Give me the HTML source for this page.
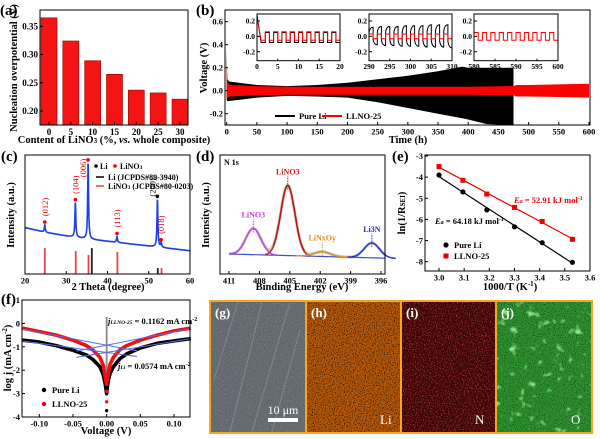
<!DOCTYPE html>
<html><head><meta charset="utf-8">
<style>
html,body{margin:0;padding:0;background:#fff;width:600px;height:439px;overflow:hidden}
svg{display:block;font-family:"Liberation Serif",serif;font-weight:bold}
</style></head>
<body>
<svg id="fig" width="600" height="439" viewBox="0 0 600 439">
<defs>
<filter id="speckDark" x="0" y="0" width="100%" height="100%"><feTurbulence type="fractalNoise" baseFrequency="0.9" numOctaves="2" seed="4"/><feColorMatrix type="matrix" values="0 0 0 0 0  0 0 0 0 0  0 0 0 0 0  0 0 0 -3 1.55"/></filter>
<filter id="speckRed" x="0" y="0" width="100%" height="100%"><feTurbulence type="fractalNoise" baseFrequency="0.85" numOctaves="2" seed="9"/><feColorMatrix type="matrix" values="0 0 0 0 0.85  0 0 0 0 0.1  0 0 0 0 0.1  0 0 0 -3 1.5"/></filter>
<filter id="blobGreen" x="0" y="0" width="100%" height="100%"><feTurbulence type="fractalNoise" baseFrequency="0.11" numOctaves="2" seed="2"/><feColorMatrix type="matrix" values="0 0 0 0 0.4  0 0 0 0 1  0 0 0 0 0.4  0 0 0 5 -3.1"/></filter>
<filter id="grain" x="0" y="0" width="100%" height="100%"><feTurbulence type="fractalNoise" baseFrequency="0.7" numOctaves="2" seed="5"/><feColorMatrix type="matrix" values="0 0 0 0 1  0 0 0 0 1  0 0 0 0 1  0 0 0 -2 1.1"/></filter>
</defs>

<!-- panel labels -->
<text x="0" y="15" font-size="15">(a)</text>
<text x="196" y="15" font-size="15">(b)</text>
<text x="1" y="161" font-size="15">(c)</text>
<text x="196" y="161" font-size="15">(d)</text>
<text x="392" y="161" font-size="15">(e)</text>
<text x="1" y="304" font-size="15">(f)</text>

<!-- axis titles -->
<text transform="translate(17,68) rotate(-90)" text-anchor="middle" font-size="10.5">Nucleation overpotential (V)</text>
<text x="114" y="143" text-anchor="middle" font-size="10.5">Content of LiNO<tspan font-size="7">3</tspan> (%, <tspan font-style="italic">vs.</tspan> whole composite)</text>
<text transform="translate(207,68) rotate(-90)" text-anchor="middle" font-size="10.5">Voltage (V)</text>
<text x="408" y="143" text-anchor="middle" font-size="10.5">Time (h)</text>
<text transform="translate(14,215) rotate(-90)" text-anchor="middle" font-size="10.5">Intensity (a.u.)</text>
<text x="108" y="290" text-anchor="middle" font-size="10.5">2 Theta (degree)</text>
<text transform="translate(209,215) rotate(-90)" text-anchor="middle" font-size="10.5">Intensity (a.u.)</text>
<text x="302" y="290" text-anchor="middle" font-size="10.5">Binding Energy (eV)</text>
<text transform="translate(405,213) rotate(-90)" text-anchor="middle" font-size="10.5">ln(1/R<tspan font-size="7">SEI</tspan>)</text>
<text x="510" y="290" text-anchor="middle" font-size="10.5">1000/T (K<tspan font-size="7" dy="-4">-1</tspan><tspan dy="4">)</tspan></text>
<text transform="translate(11,358) rotate(-90)" text-anchor="middle" font-size="10.5">log j (mA cm<tspan font-size="7" dy="-4">-2</tspan><tspan dy="4">)</tspan></text>
<text x="106" y="434" text-anchor="middle" font-size="10.5">Voltage (V)</text>

<!-- legends and annotations -->
<g font-size="8.5">
<line x1="275" y1="116" x2="295" y2="116" stroke="#000" stroke-width="2"/>
<text x="299" y="119">Pure Li</text>
<line x1="322" y1="116" x2="342" y2="116" stroke="#f00" stroke-width="2"/>
<text x="346" y="119">LLNO-25</text>
</g>
<g font-size="8">
<circle cx="96" cy="166" r="1.8" fill="#000"/><text x="100" y="169">Li</text>
<circle cx="115" cy="166" r="1.8" fill="#e00"/><text x="120" y="169">LiNO<tspan font-size="5.5">3</tspan></text>
<line x1="96" y1="177" x2="104" y2="177" stroke="#000" stroke-width="1.5"/><text x="108" y="180">Li (JCPDS#89-3940)</text>
<line x1="96" y1="186" x2="104" y2="186" stroke="#e44" stroke-width="1.5"/><text x="108" y="189">LiNO<tspan font-size="5.5">3</tspan> (JCPDS#80-0203)</text>
</g>
<text x="224" y="165" font-size="8">N 1s</text>
<g font-size="8.5">
<circle cx="446" cy="245" r="2.6" fill="#000"/><text x="454" y="248">Pure Li</text>
<rect x="443.5" y="253.5" width="5" height="5" fill="#e00"/><text x="454" y="259">LLNO-25</text>
</g>
<text x="514" y="203" font-size="8.5" fill="#e00"><tspan font-style="italic">E<tspan font-size="6">a</tspan></tspan> = 52.91 kJ mol<tspan font-size="6" dy="-3">-1</tspan></text>
<text x="435" y="224" font-size="8.5" fill="#000"><tspan font-style="italic">E<tspan font-size="6">a</tspan></tspan> = 64.18 kJ mol<tspan font-size="6" dy="-3">-1</tspan></text>
<text x="108" y="324" font-size="8.5"><tspan font-style="italic">j<tspan font-size="5.5">LLNO-25</tspan></tspan> = 0.1162 mA cm<tspan font-size="6" dy="-3">-2</tspan></text>
<text x="118" y="369" font-size="8.5"><tspan font-style="italic">j<tspan font-size="5.5">Li</tspan></tspan> = 0.0574 mA cm<tspan font-size="6" dy="-3">-2</tspan></text>
<g font-size="8.5">
<circle cx="44" cy="390" r="2.2" fill="#000"/><text x="52" y="393">Pure Li</text>
<circle cx="44" cy="404" r="2.2" fill="#e00"/><text x="52" y="407">LLNO-25</text>
</g>

<!-- image panels -->
<g>
<rect x="209" y="300" width="384" height="134" fill="#f5a623"/>
<g>
<rect x="211" y="302" width="94" height="130" fill="#666c70"/>
<rect x="211" y="302" width="94" height="130" filter="url(#grain)" opacity="0.15"/>
<rect x="211" y="302" width="94" height="130" filter="url(#speckDark)" opacity="0.2"/>
<path d="M230 432 L262 302 M252 432 L290 302 M214 380 L238 302 M272 432 L300 330" stroke="#9aa0a8" stroke-width="1" opacity="0.5"/>
<text x="215" y="317" font-size="13" fill="#fff">(g)</text>
<text x="283" y="414" font-size="12" fill="#fff" text-anchor="middle" font-weight="normal">10 μm</text>
<rect x="268" y="418" width="30" height="4" fill="#fff"/>
</g>
<g>
<rect x="307" y="302" width="93" height="130" fill="#b85a0c"/>
<rect x="307" y="302" width="93" height="130" filter="url(#speckDark)" opacity="0.9"/>
<text x="311" y="317" font-size="13" fill="#fff">(h)</text>
<text x="380" y="424" font-size="13" fill="#fff" font-weight="normal">Li</text>
</g>
<g>
<rect x="402" y="302" width="93" height="130" fill="#3a0505"/>
<rect x="402" y="302" width="93" height="130" filter="url(#speckRed)" opacity="0.8"/>
<text x="406" y="317" font-size="13" fill="#fff">(i)</text>
<text x="475" y="424" font-size="13" fill="#fff" font-weight="normal">N</text>
</g>
<g>
<rect x="497" y="302" width="94" height="130" fill="#2e9430"/>
<rect x="497" y="302" width="94" height="130" filter="url(#speckDark)" opacity="0.6"/>
<rect x="497" y="302" width="94" height="130" filter="url(#blobGreen)" opacity="0.8"/>
<text x="501" y="317" font-size="13" fill="#fff">(j)</text>
<text x="571" y="424" font-size="13" fill="#fff" font-weight="normal">O</text>
</g>
</g>
</svg>

<script>
// ---------- data (a) ----------
const catsA = [0, 5, 10, 15, 20, 25, 30];
const valsA = [0.365, 0.324, 0.289, 0.265, 0.237, 0.232, 0.221];
const yTicksA = [0.20, 0.25, 0.30, 0.35];
// ---------- data (b) ----------
const blackHours = [0, 1, 4, 20, 50, 100, 150, 200, 250, 300, 350, 390, 400, 430, 470, 475];
const blackTop = [0.36, 0.1, 0.08, 0.07, 0.05, 0.04, 0.05, 0.07, 0.10, 0.13, 0.17, 0.21, 0.2, 0.2, 0.2, 0.2];
const blackBot = [-0.08, -0.09, -0.09, -0.08, -0.06, -0.045, -0.05, -0.06, -0.10, -0.15, -0.2, -0.24, -0.25, -0.29, -0.3, -0.3];
const redHours = [0, 1, 5, 50, 100, 200, 300, 400, 475, 480, 500, 550, 600];
const redTop = [0.23, 0.08, 0.05, 0.04, 0.035, 0.035, 0.035, 0.035, 0.04, 0.05, 0.05, 0.055, 0.06];
const redBot = [-0.07, -0.06, -0.05, -0.04, -0.035, -0.035, -0.035, -0.035, -0.04, -0.05, -0.05, -0.055, -0.06];
const xTicksB = [0, 50, 100, 150, 200, 250, 300, 350, 400, 450, 500, 550, 600];
const yTicksB = [-0.2, 0.0, 0.2, 0.4, 0.6];
const inset1Ticks = [0, 5, 10, 15, 20];
const inset2Ticks = [290, 295, 300, 305, 310];
const inset3Ticks = [580, 585, 590, 595, 600];
const insetYTicks = [-0.2, 0.0, 0.2];
const inset1RedHigh = [0.25, 0.06, 0.06, 0.06, 0.06, 0.06, 0.06, 0.06, 0.06, 0.06];
const inset1RedLow = [-0.05, -0.05, -0.05, -0.05, -0.05, -0.05, -0.05, -0.05, -0.05, -0.05];
const inset1BlackHigh = [0.28, 0.05, 0.05, 0.05, 0.05, 0.05, 0.05, 0.05, 0.05, 0.05];
const inset1BlackLow = [-0.08, -0.08, -0.08, -0.08, -0.08, -0.08, -0.08, -0.08, -0.08, -0.08];
const inset2BlackHigh = [0.12, 0.13, 0.13, 0.13, 0.14, 0.14, 0.14, 0.15, 0.15, 0.15];
const inset2BlackLow = [-0.11, -0.12, -0.12, -0.13, -0.13, -0.13, -0.14, -0.14, -0.14, -0.15];
const inset2RedHigh = [0.03, 0.03, 0.03, 0.03, 0.03, 0.03, 0.03, 0.03, 0.03, 0.03];
const inset2RedLow = [-0.03, -0.03, -0.03, -0.03, -0.03, -0.03, -0.03, -0.03, -0.03, -0.03];
const inset3RedHigh = [0.05, 0.05, 0.05, 0.05, 0.05, 0.05, 0.05, 0.05, 0.05, 0.05];
const inset3RedLow = [-0.05, -0.05, -0.05, -0.05, -0.05, -0.05, -0.05, -0.05, -0.05, -0.05];
// ---------- data (c) ----------
const bgXC = [20, 25, 30, 35, 40, 45, 50, 55, 60];
const bgYC = [39, 35, 32, 29.5, 27.5, 25.5, 23.5, 21.5, 19.5];
const peakPosC = [24.8, 32.2, 35.3, 42.3, 52.1, 53.0];
const peakHtC = [6, 29, 64, 5, 40, 4];
const stickPosC = [24.8, 32.3, 35.4, 36.2, 42.4, 52.2, 53.1];
const stickHtC = [21.8, 19.3, 16, 21.8, 18.5, 5, 5];
const stickIsLi = [false, false, false, true, false, true, false];
const peakLabelsC = ['(012)', '(104)', '(006)', '(113)', '(200)', '(018)'];
const xTicksC = [20, 30, 40, 50, 60];
// ---------- data (d) ----------
const compCenterD = [408.6, 405.2, 401.8, 396.9];
const compHeightD = [22, 59, 4, 12.5];
const compSigmaD = [0.75, 0.7, 0.8, 0.75];
const compNamesD = ['LiNO3', 'LiNO3', 'LiNxOy', 'Li3N'];
const bgEndsXD = [411, 396];
const bgEndsYD = [16.8, 13.4];
const xTicksD = [411, 408, 405, 402, 399, 396];
// ---------- data (e) ----------
const xE = [3.0, 3.095, 3.19, 3.3, 3.41, 3.53];
const lnLi = [-3.9, -4.7, -5.55, -6.35, -7.1, -8.03];
const lnLLNO = [-3.5, -4.15, -4.8, -5.43, -6.1, -6.94];
const xTicksE = [3.0, 3.1, 3.2, 3.3, 3.4, 3.5, 3.6];
const yTicksE = [-3, -4, -5, -6, -7, -8];
// ---------- data (f) ----------
const vLeft = [-0.125, -0.1, -0.075, -0.05, -0.03, -0.02, -0.01, -0.005, -0.002, 0];
const vRight = [0, 0.002, 0.005, 0.01, 0.02, 0.03, 0.05, 0.075, 0.1, 0.125];
const liLeft = [-0.72, -0.8, -0.95, -1.15, -1.35, -1.55, -1.85, -2.2, -2.6, -3.0];
const liRight = [-3.0, -2.5, -2.15, -1.85, -1.5, -1.3, -1.05, -0.85, -0.75, -0.65];
const llnoLeft = [-0.2, -0.35, -0.5, -0.72, -0.95, -1.15, -1.45, -1.8, -2.3, -2.6];
const llnoRight = [-2.6, -2.2, -1.75, -1.45, -1.12, -0.95, -0.72, -0.5, -0.32, -0.2];
const li0Points = [-2.4, -2.7, -3.0, -3.73];
const llno0Points = [-2.3, -2.6, -2.9, -3.35];
const j0Li = -1.24, j0LLNO = -0.93;
const tafelSlopes = [-3.92, 4.72, -5.44, 5.68];
const xTicksF = [-0.10, -0.05, 0.00, 0.05, 0.10];
const yTicksF = [1, 0, -1, -2, -3, -4];

// ---------- helpers ----------
const NS = 'http://www.w3.org/2000/svg';
const svg = document.getElementById('fig');
function lin(d0, d1, r0, r1) { return v => r0 + (v - d0) * (r1 - r0) / (d1 - d0); }
function mk(tag, attrs, parent) { const e = document.createElementNS(NS, tag); for (const k in attrs) e.setAttribute(k, attrs[k]); (parent || svg).appendChild(e); return e; }
function interp(xs, ys, x) { for (let i = 0; i < xs.length - 1; i++) { if (x <= xs[i + 1]) { const t = (x - xs[i]) / (xs[i + 1] - xs[i]); return ys[i] + t * (ys[i + 1] - ys[i]); } } return ys[ys.length - 1]; }
function box(x, y, w, h, name) {
  const r = mk('rect', { x, y, width: w, height: h, fill: 'none', stroke: '#000', 'stroke-width': 1 });
  
  
}
function xTicks(sc, vals, y0, labels, fs, name, len) {
  vals.forEach((v, i) => {
    const l = mk('line', { x1: sc(v), x2: sc(v), y1: y0, y2: y0 - (len || 3), stroke: '#000', 'stroke-width': 1 });
    
    
    const t = mk('text', { x: sc(v), y: y0 + fs + 1, 'text-anchor': 'middle', 'font-size': fs });
    t.textContent = labels[i];
    
    
  });
}
function yTicks(sc, vals, x0, labels, fs, name) {
  vals.forEach((v, i) => {
    const l = mk('line', { x1: x0, x2: x0 + 3, y1: sc(v), y2: sc(v), stroke: '#000', 'stroke-width': 1 });
    
    
    const t = mk('text', { x: x0 - 2, y: sc(v) + fs * 0.35, 'text-anchor': 'end', 'font-size': fs });
    t.textContent = labels[i];
    
    
  });
}
function pathD(pts) { return pts.map((p, i) => (i ? 'L' : 'M') + p[0].toFixed(1) + ' ' + p[1].toFixed(1)).join(' '); }

// ---------- panel (a) ----------
const xA = lin(0, 30, 49, 180);
const yA = lin(0.20, 0.35, 111, 26.3);
catsA.forEach((c, i) => {
  const b = mk('rect', { x: xA(c) - 8, y: yA(valsA[i]), width: 16, height: 125 - yA(valsA[i]), fill: '#f41414', stroke: '#900', 'stroke-width': 0.6 });
  
  
});
box(40, 10, 148, 115, 'plot-area-a');
xTicks(xA, catsA, 125, catsA.map(String), 9, 'x-axis-a');
yTicks(yA, yTicksA, 40, yTicksA.map(v => v.toFixed(2)), 9, 'y-axis-a');

// ---------- panel (b) ----------
const xB = lin(0, 600, 226.7, 589);
const yB = lin(0, 0.2, 90.7, 67.7);
const clipY = v => Math.max(10, Math.min(125, yB(v)));
{
  const pts = blackHours.map((h, i) => [xB(h), clipY(blackTop[i])]).concat(blackHours.map((h, i) => [xB(h), clipY(blackBot[i])]).reverse());
  const p = mk('path', { d: pathD(pts) + ' Z', fill: '#000' });
  
  
  const pts2 = redHours.map((h, i) => [xB(h), clipY(redTop[i])]).concat(redHours.map((h, i) => [xB(h), clipY(redBot[i])]).reverse());
  const p2 = mk('path', { d: pathD(pts2) + ' Z', fill: '#f00' });
  
  
}
box(225, 10, 365, 115, 'plot-area-b');
xTicks(xB, xTicksB, 125, xTicksB.map(String), 8.5, 'x-axis-b');
yTicks(yB, yTicksB, 225, yTicksB.map(v => v.toFixed(1)), 8.5, 'y-axis-b');

// insets
const yIn = lin(-0.2, 0.2, 51.7, 21);
function squareWave(sc, t0, highs, lows, color, name, curved) {
  let d = '';
  highs.forEach((hv, k) => {
    const a = t0 + 2 * k;
    if (curved) {
      d += (k ? 'L' : 'M') + sc(a).toFixed(1) + ' ' + yIn(hv * 0.4).toFixed(1) + ' Q' + sc(a + 0.2).toFixed(1) + ' ' + yIn(hv).toFixed(1) + ' ' + sc(a + 1).toFixed(1) + ' ' + yIn(hv).toFixed(1);
      d += ' L' + sc(a + 1).toFixed(1) + ' ' + yIn(lows[k] * 0.4).toFixed(1) + ' Q' + sc(a + 1.2).toFixed(1) + ' ' + yIn(lows[k]).toFixed(1) + ' ' + sc(a + 2).toFixed(1) + ' ' + yIn(lows[k]).toFixed(1);
    } else {
      d += (k ? 'L' : 'M') + sc(a).toFixed(1) + ' ' + yIn(hv).toFixed(1) + ' L' + sc(a + 1).toFixed(1) + ' ' + yIn(k === 0 && hv > 0.1 ? lows[k] : hv).toFixed(1);
      d += ' L' + sc(a + 1).toFixed(1) + ' ' + yIn(lows[k]).toFixed(1) + ' L' + sc(a + 2).toFixed(1) + ' ' + yIn(lows[k]).toFixed(1);
    }
  });
  const p = mk('path', { d, fill: 'none', stroke: color, 'stroke-width': 1 });
  
  
}
const insets = [
  { x0: 257, x1: 340, t: inset1Ticks },
  { x0: 369, x1: 452, t: inset2Ticks },
  { x0: 474, x1: 558, t: inset3Ticks }
];
insets.forEach((ins, n) => {
  const bg = mk('rect', { x: ins.x0, y: 14, width: ins.x1 - ins.x0, height: 46.7, fill: '#fff' });
  
  
  const sc = lin(ins.t[0], ins.t[4], ins.x0, ins.x1);
  if (n === 0) {
    squareWave(sc, 0, inset1BlackHigh, inset1BlackLow, '#000', 'inset-1-pure-li', false);
    squareWave(sc, 0, inset1RedHigh, inset1RedLow, '#f00', 'inset-1-llno-25', false);
  } else if (n === 1) {
    squareWave(sc, 290, inset2BlackHigh, inset2BlackLow, '#000', 'inset-2-pure-li', true);
    squareWave(sc, 290, inset2RedHigh, inset2RedLow, '#f00', 'inset-2-llno-25', false);
  } else {
    squareWave(sc, 580, inset3RedHigh, inset3RedLow, '#f00', 'inset-3-llno-25', false);
  }
  box(ins.x0, 14, ins.x1 - ins.x0, 46.7, 'inset-' + (n + 1) + '-frame');
  xTicks(sc, ins.t, 60.7, ins.t.map(String), 7.5, 'inset-' + (n + 1) + '-x-axis', 2);
  yTicks(yIn, insetYTicks, ins.x0, insetYTicks.map(v => v.toFixed(1)), 7.5, 'inset-' + (n + 1) + '-y-axis');
});

// ---------- panel (c) ----------
const xC = lin(20, 60, 25, 190);
const yC = lin(0, 100, 274, 155);
{
  const pts = [];
  for (let x = 20; x <= 60.001; x += 0.04) {
    let v = interp(bgXC, bgYC, x);
    peakPosC.forEach((c, i) => { v += peakHtC[i] / (1 + Math.pow((x - c) / 0.13, 2)); });
    pts.push([xC(x), yC(v)]);
  }
  const p = mk('path', { d: pathD(pts), fill: 'none', stroke: '#1f3fe6', 'stroke-width': 1.6 });
  
  
}
stickPosC.forEach((s, i) => {
  const l = mk('line', { x1: xC(s), x2: xC(s), y1: 274, y2: yC(stickHtC[i]), stroke: stickIsLi[i] ? '#222' : '#e44', 'stroke-width': 1.8 });
  
  
});
peakPosC.forEach((c, i) => {
  const top = yC(interp(bgXC, bgYC, c) + peakHtC[i]);
  const isLi = peakLabelsC[i] === '(200)';
  const dot = mk('circle', { cx: xC(c), cy: top - 3, r: 1.8, fill: isLi ? '#000' : '#e00' });
  
  
  const off = (i === 2 || i === 4) ? -5 : 0;
  const tx = xC(c) + off + 3, ty = top - (off ? 12 : 18);
  const t = mk('text', { transform: 'translate(' + tx + ',' + Math.max(ty, 168) + ') rotate(-90)', 'text-anchor': 'middle', 'font-size': 8.5, fill: isLi ? '#000' : '#e00', 'font-weight': 'normal' });
  t.textContent = peakLabelsC[i];
  
  
});
box(25, 155, 165, 119, 'plot-area-c');
xTicks(xC, xTicksC, 274, xTicksC.map(String), 8.5, 'x-axis-c');

// ---------- panel (d) ----------
const xD = lin(411, 396, 229, 381);
const yD = lin(0, 100, 274, 155);
const bgD = x => interp([396, 411], [bgEndsYD[1], bgEndsYD[0]], x);
const gauss = (x, i) => compHeightD[i] * Math.exp(-Math.pow((x - compCenterD[i]) / compSigmaD[i], 2) / 2);
{
  const env = [], base = [];
  for (let x = 411; x >= 395.5; x -= 0.05) {
    let s = bgD(x);
    compCenterD.forEach((c, i) => { s += gauss(x, i); });
    env.push([xD(x), yD(s)]);
    base.push([xD(x), yD(bgD(x))]);
  }
  const r = mk('path', { d: pathD(env), fill: 'none', stroke: '#c4cac4', 'stroke-width': 3 });
  
  
  const b = mk('path', { d: pathD(base), fill: 'none', stroke: '#3b4fd0', 'stroke-width': 1.2 });
  
  
  const colors = ['#c63ce6', '#d01818', '#f08a1e', '#1e30d0'];
  compCenterD.forEach((c, i) => {
    const pts = [];
    for (let x = c + 3.2 * compSigmaD[i]; x >= c - 3.2 * compSigmaD[i]; x -= 0.05) pts.push([xD(x), yD(bgD(x) + gauss(x, i))]);
    const p = mk('path', { d: pathD(pts), fill: 'none', stroke: colors[i], 'stroke-width': 1.4 });
    
    
    const top = yD(bgD(c) + compHeightD[i]);
    const dl = mk('line', { x1: xD(c), x2: xD(c), y1: top + 4, y2: top - 9, stroke: colors[i], 'stroke-width': 1, 'stroke-dasharray': '1.5 1' });
    
    
    const t = mk('text', { x: xD(c), y: top - 11, 'text-anchor': 'middle', 'font-size': 8, fill: colors[i] });
    t.textContent = compNamesD[i];
    
    
  });
  const e = mk('path', { d: pathD(env.filter(p => p[0] > xD(406.6) && p[0] < xD(403.5))), fill: 'none', stroke: '#c01010', 'stroke-width': 1.4 });
  
  
}
box(220, 155, 165, 119, 'plot-area-d');
xTicks(xD, xTicksD, 274, xTicksD.map(String), 8.5, 'x-axis-d');

// ---------- panel (e) ----------
const xEs = lin(3.0, 3.6, 439, 590);
const yEs = lin(-3, -8, 156, 261.7);
[[lnLi, '#000', 'pure-li'], [lnLLNO, '#e00', 'llno-25']].forEach(([arr, col, nm]) => {
  const n = arr.length;
  let sx = 0, sy = 0, sxx = 0, sxy = 0;
  xE.forEach((x, i) => { sx += x; sy += arr[i]; sxx += x * x; sxy += x * arr[i]; });
  const m = (n * sxy - sx * sy) / (n * sxx - sx * sx), b = (sy - m * sx) / n;
  const fl = mk('line', { x1: xEs(xE[0]), y1: yEs(m * xE[0] + b), x2: xEs(xE[n - 1]), y2: yEs(m * xE[n - 1] + b), stroke: col, 'stroke-width': 1.2 });
  
  
  xE.forEach((x, i) => {
    const mark = nm === 'pure-li' ? mk('circle', { cx: xEs(x), cy: yEs(arr[i]), r: 2.6, fill: col }) : mk('rect', { x: xEs(x) - 2.5, y: yEs(arr[i]) - 2.5, width: 5, height: 5, fill: col });
    
    
  });
});
box(425, 155, 165, 116, 'plot-area-e');
xTicks(xEs, xTicksE, 271, xTicksE.map(v => v.toFixed(1)), 8.5, 'x-axis-e');
yTicks(yEs, yTicksE, 425, yTicksE.map(String), 8.5, 'y-axis-e');

// ---------- panel (f) ----------
const xF = lin(-0.1, 0.1, 39.3, 174);
const yF = lin(1, -4, 300, 417);
{
  const tafel = [[j0Li, tafelSlopes[0], -0.125, 0.045], [j0Li, tafelSlopes[1], -0.045, 0.125], [j0LLNO, tafelSlopes[2], -0.125, 0.045], [j0LLNO, tafelSlopes[3], -0.045, 0.125]];
  const gl = mk('line', { x1: xF(0), x2: xF(0), y1: 317, y2: yF(-2.3), stroke: '#888', 'stroke-width': 1.8 });
  
  
  [[liLeft, liRight, li0Points, '#000', 'pure-li'], [llnoLeft, llnoRight, llno0Points, '#f01010', 'llno-25']].forEach(([L, R, P, col, nm]) => {
    const pts = vLeft.map((v, i) => [xF(v), yF(L[i])]).concat(vRight.map((v, i) => [xF(v), yF(R[i])]));
    const p = mk('path', { d: pathD(pts), fill: 'none', stroke: col, 'stroke-width': 3.6, 'stroke-linejoin': 'round' });
    
    
    P.forEach(v => {
      const c = mk('circle', { cx: xF(0), cy: yF(v), r: 1.7, fill: col });
      
      
    });
  });
  tafel.forEach(([j0, s, a, b]) => {
    const l = mk('line', { x1: xF(a), y1: yF(j0 + s * a), x2: xF(b), y2: yF(j0 + s * b), stroke: '#5b6be8', 'stroke-width': 1 });
    
    
  });
}
box(22, 300, 168, 117, 'plot-area-f');
xTicks(xF, xTicksF, 417, xTicksF.map(v => v.toFixed(2)), 8.5, 'x-axis-f');
yTicks(yF, yTicksF, 22, yTicksF.map(String), 8.5, 'y-axis-f');
</script>
</body></html>
